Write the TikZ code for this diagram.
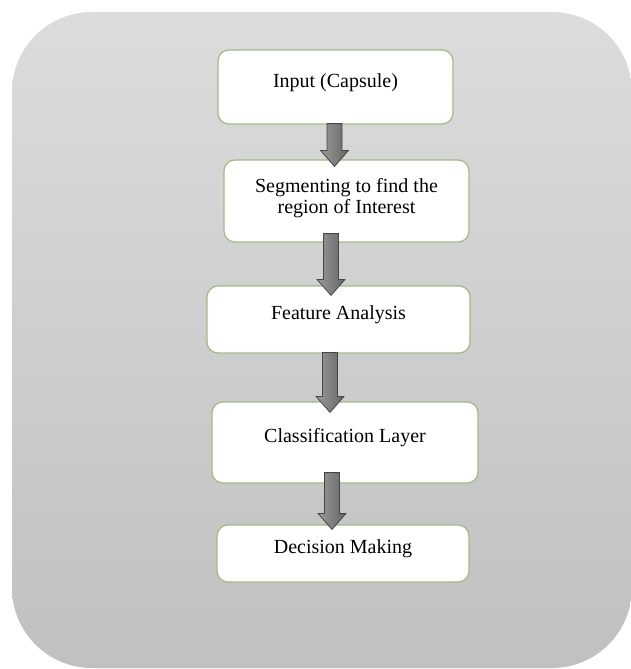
\documentclass[tikz,border=0pt]{standalone}
\usepackage{fontspec}
\setmainfont{Liberation Serif}
\usepackage{xcolor}
\usepackage{tikz}
\usetikzlibrary{calc}

\definecolor{bgtop}{RGB}{220,220,220}
\definecolor{bgbottom}{RGB}{192,192,192}
\definecolor{boxline}{RGB}{160,186,130}
\definecolor{arrowlight}{RGB}{155,155,155}
\definecolor{arrowdark}{RGB}{100,100,100}
\definecolor{arrowline}{RGB}{70,70,70}

\tikzset{
  stage/.style={draw=boxline, line width=1.2pt, fill=white, rounded corners=11pt,
    inner sep=0pt, font=\fontsize{20}{21}\selectfont, text height=12pt, text depth=12pt},
  arrowfill/.style={draw=arrowline, line width=0.8pt, left color=arrowlight, right color=arrowdark}
}

% block arrow: from node, to node, x position, overlap at top, depth of tip
\newcommand{\flowarrow}[5]{%
  \path[arrowfill] let \p1=(#1.south), \p2=(#2.north), \p3=(#3,0) in
    (\x3-7.5pt,\y1+#4) -- (\x3+7.5pt,\y1+#4) -- (\x3+7.5pt,\y2-#5+16pt)
    -- (\x3+14pt,\y2-#5+16pt) -- (\x3,\y2-#5) -- (\x3-14pt,\y2-#5+16pt)
    -- (\x3-7.5pt,\y2-#5+16pt) -- cycle;
}

\begin{document}
\begin{tikzpicture}[x=1pt, y=-1pt]
  \useasboundingbox (0,0) rectangle (631,669);

  % Panel
  \shade[top color=bgtop, bottom color=bgbottom, rounded corners=80pt] (12,12) rectangle (632,668);

  % Stages
  \node[stage, minimum width=235pt, minimum height=74pt, text depth=10pt] (input) at (335.5,87) {Input (Capsule)};
  \node[stage, minimum width=245pt, minimum height=82pt, align=center, text height=28pt, text depth=4pt] (segment) at (346.5,201) {Segmenting to find the\\region of Interest};
  \node[stage, minimum width=263pt, minimum height=67pt] (feature) at (338.5,319.5) {Feature Analysis};
  \node[stage, minimum width=266pt, minimum height=81pt] (classify) at (345,442.5) {Classification Layer};
  \node[stage, minimum width=252pt, minimum height=57pt] (decide) at (343,553.5) {Decision Making};

  % Arrows
  \flowarrow{input}{segment}{334.5}{1pt}{7pt}
  \flowarrow{segment}{feature}{331}{9pt}{10pt}
  \flowarrow{feature}{classify}{330}{1pt}{11pt}
  \flowarrow{classify}{decide}{332}{11pt}{5pt}
\end{tikzpicture}
\end{document}
